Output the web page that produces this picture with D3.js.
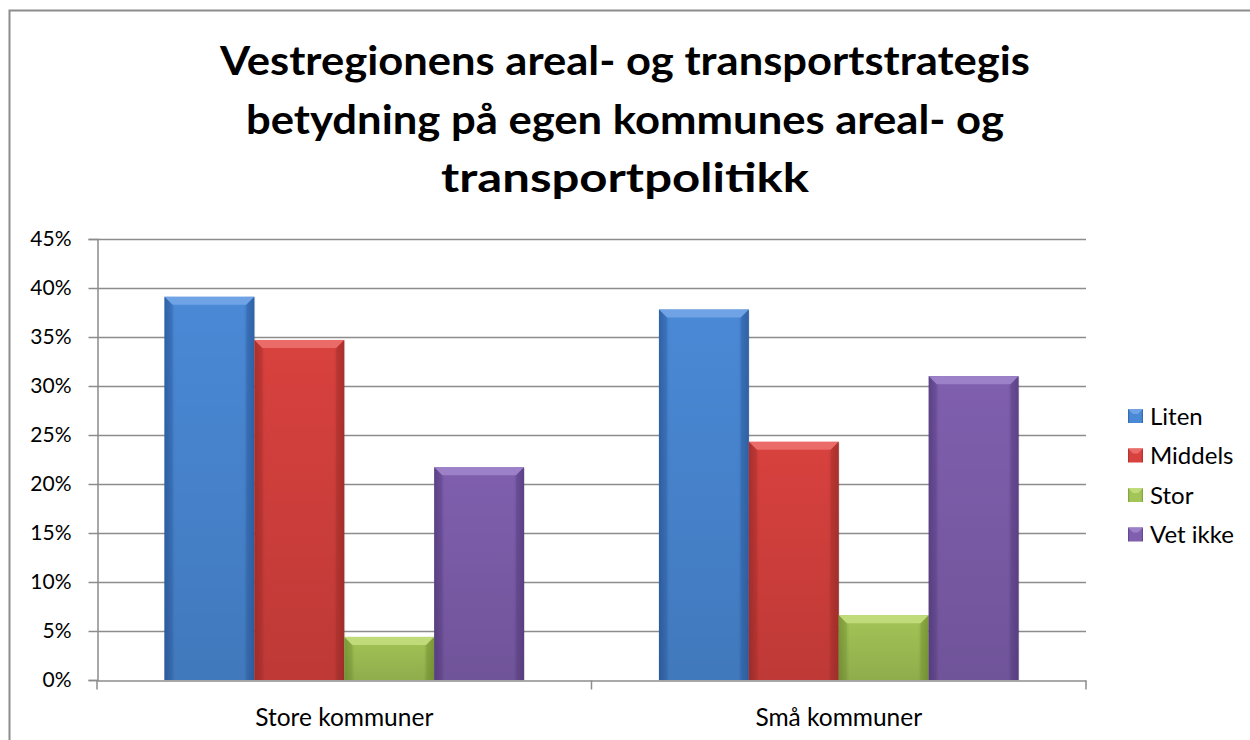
<!DOCTYPE html>
<html>
<head>
<meta charset="utf-8">
<script src="https://cdn.jsdelivr.net/npm/d3@7"></script>
<style>
  body { margin: 0; background: #fff; }
  text { font-family: Lato, "Open Sans", sans-serif; }
</style>
</head>
<body>
<script>
// data
var categories = ["Store kommuner", "Små kommuner"];
var seriesNames = ["Liten", "Middels", "Stor", "Vet ikke"];
var liten = [0.391, 0.378];
var middels = [0.347, 0.243];
var stor = [0.044, 0.066];
var vetIkke = [0.217, 0.310];
var yTicks = [0, 0.05, 0.10, 0.15, 0.20, 0.25, 0.30, 0.35, 0.40, 0.45];
var titleLines = ["Vestregionens areal- og transportstrategis",
                  "betydning på egen kommunes areal- og",
                  "transportpolitikk"];

var seriesValues = [liten, middels, stor, vetIkke];
var colors = [
  { mid: "#4a89d6", edge: "#3062a6", top: "#6fa3e6" },
  { mid: "#d8413e", edge: "#a8302d", top: "#ea6b68" },
  { mid: "#a3c456", edge: "#7c9a38", top: "#c0dc7a" },
  { mid: "#7f5fae", edge: "#5d4288", top: "#9c80c8" }
];

var width = 1250, height = 740;
var svg = d3.select("body").append("svg")
    .attr("width", width)
    .attr("height", height);

var defs = svg.append("defs");
colors.forEach(function (c, i) {
  var g = defs.append("linearGradient").attr("id", "bar" + i)
      .attr("x1", 0).attr("x2", 1).attr("y1", 0).attr("y2", 0);
  g.append("stop").attr("offset", "0%").attr("stop-color", c.edge);
  g.append("stop").attr("offset", "12%").attr("stop-color", c.mid);
  g.append("stop").attr("offset", "88%").attr("stop-color", c.mid);
  g.append("stop").attr("offset", "100%").attr("stop-color", c.edge);
  var gv = defs.append("linearGradient").attr("id", "shade" + i)
      .attr("x1", 0).attr("x2", 0).attr("y1", 0).attr("y2", 1);
  gv.append("stop").attr("offset", "0%").attr("stop-color", "#000").attr("stop-opacity", 0);
  gv.append("stop").attr("offset", "100%").attr("stop-color", "#000").attr("stop-opacity", 0.12);
});

// outer chart frame (only top and left edges are in view)
svg.append("path")
    .attr("d", "M9.5,740 V10.5 H1250")
    .attr("fill", "none")
    .attr("stroke", "#8c8c8c")
    .attr("stroke-width", 2);

// title
var title = svg.append("g");
titleLines.forEach(function (t, i) {
  title.append("text")
      .attr("x", 625)
      .attr("y", 75 + i * 58.5)
      .attr("text-anchor", "middle")
      .attr("font-size", 40)
      .attr("font-weight", "bold")
      .attr("fill", "#000")
      .attr("textLength", [810, 758, 368][i])
      .attr("lengthAdjust", "spacingAndGlyphs")
      .text(t);
});

var x0 = d3.scaleBand().domain(categories).range([97, 1086]).padding(0);
var x1 = d3.scaleBand().domain(seriesNames).range([0, x0.bandwidth()])
    .paddingInner(0).paddingOuter(0.75);
var y = d3.scaleLinear().domain([0, 0.45]).range([680, 239]);

// gridlines
svg.append("g").selectAll("line")
    .data(yTicks.slice(1))
    .enter().append("line")
    .attr("x1", 97).attr("x2", 1086)
    .attr("y1", function (d) { return Math.round(y(d)) + 0.5; })
    .attr("y2", function (d) { return Math.round(y(d)) + 0.5; })
    .attr("stroke", "#8c8c8c")
    .attr("stroke-width", 1.5);

// y axis
var yAxis = svg.append("g")
    .attr("transform", "translate(97.5,0)")
    .call(d3.axisLeft(y).tickValues(yTicks).tickSize(9).tickPadding(17)
      .tickFormat(d3.format(".0%")));
yAxis.attr("font-family", null).attr("font-size", null);
yAxis.select(".domain").attr("stroke", "#8c8c8c").attr("stroke-width", 1.5);
yAxis.selectAll(".tick line").attr("stroke", "#8c8c8c").attr("stroke-width", 1.5);
yAxis.selectAll(".tick text")
    .attr("font-size", 21)
    .attr("fill", "#000");

// bars
var groups = svg.append("g").selectAll("g")
    .data(categories)
    .enter().append("g")
    .attr("transform", function (d) { return "translate(" + x0(d) + ",0)"; });

groups.each(function (cat, ci) {
  var g = d3.select(this);
  seriesNames.forEach(function (s, si) {
    var v = seriesValues[si][ci];
    var bx = x1(s), bw = x1.bandwidth();
    var top = y(v), bottom = y(0);
    var c = colors[si];
    // soft shadow
    g.append("rect")
        .attr("x", bx + 1).attr("y", top + 1)
        .attr("width", bw).attr("height", bottom - top)
        .attr("fill", "#000").attr("opacity", 0.08);
    g.append("rect")
        .attr("x", bx).attr("y", top)
        .attr("width", bw).attr("height", bottom - top)
        .attr("fill", "url(#bar" + si + ")");
    g.append("rect")
        .attr("x", bx).attr("y", top)
        .attr("width", bw).attr("height", bottom - top)
        .attr("fill", "url(#shade" + si + ")");
    // bevel on top
    var bev = Math.min(8, (bottom - top) / 2);
    g.append("path")
        .attr("d", "M" + bx + "," + top + " H" + (bx + bw) +
              " L" + (bx + bw - bev) + "," + (top + bev) +
              " H" + (bx + bev) + " Z")
        .attr("fill", c.top);
    g.append("path")
        .attr("d", "M" + bx + "," + top + " L" + (bx + bev) + "," + (top + bev) +
              " V" + bottom + " H" + bx + " Z")
        .attr("fill", c.edge).attr("opacity", 0.35);
    g.append("path")
        .attr("d", "M" + (bx + bw) + "," + top + " L" + (bx + bw - bev) + "," + (top + bev) +
              " V" + bottom + " H" + (bx + bw) + " Z")
        .attr("fill", c.edge).attr("opacity", 0.45);
  });
});

// x axis
var xAxis = svg.append("g")
    .attr("transform", "translate(0,680.5)")
    .call(d3.axisBottom(x0).tickSize(0).tickPadding(28));
xAxis.attr("font-family", null).attr("font-size", null);
xAxis.select(".domain").attr("stroke", "#8c8c8c").attr("stroke-width", 1.5);
xAxis.selectAll(".tick text")
    .attr("font-size", 24.5)
    .attr("fill", "#000");
// category boundary ticks
xAxis.append("g").selectAll("line")
    .data([97, 1086].concat(categories.slice(1).map(function (d) { return x0(d); })))
    .enter().append("line")
    .attr("x1", function (d) { return d; }).attr("x2", function (d) { return d; })
    .attr("y1", 0).attr("y2", 9)
    .attr("stroke", "#8c8c8c").attr("stroke-width", 1.5);

// legend
var legend = svg.append("g").selectAll("g")
    .data(seriesNames)
    .enter().append("g")
    .attr("transform", function (d, i) { return "translate(1128," + (416 + i * 39.5) + ")"; });
legend.append("rect")
    .attr("x", 0).attr("y", -7)
    .attr("width", 15).attr("height", 14)
    .attr("fill", function (d, i) { return "url(#bar" + i + ")"; });
legend.append("path")
    .attr("d", "M0,-7 H15 L10,-2 H5 Z")
    .attr("fill", function (d, i) { return colors[i].top; });
legend.append("text")
    .attr("x", 22).attr("y", 0)
    .attr("dy", "0.36em")
    .attr("font-size", 24)
    .attr("fill", "#000")
    .text(function (d) { return d; });
</script>
</body>
</html>
